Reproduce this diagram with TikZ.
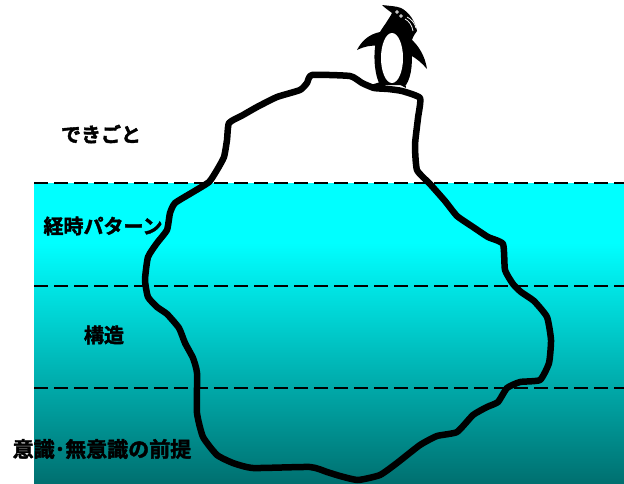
\documentclass[tikz,border=0pt]{standalone}
\usepackage{fontspec}
\newfontfamily\jpfont{Noto Sans CJK JP Bold}[FakeBold=2]
\definecolor{deepwater}{RGB}{0,112,112}
\definecolor{surface}{RGB}{0,255,255}
\pgfdeclareverticalshading{water}{100bp}{color(0bp)=(deepwater); color(25bp)=(deepwater); color(65bp)=(surface); color(100bp)=(surface)}
\tikzset{
  level/.style={line width=1.8pt, dash pattern=on 14pt off 6pt},
  berg/.style={line width=6.5pt, line join=round, line cap=round},
  layer/.style={font=\jpfont\fontsize{20pt}{22pt}\selectfont, inner sep=0pt},
  ink/.style={fill=black, draw=none},
}
\begin{document}
\begin{tikzpicture}[x=1pt,y=-1pt]
\useasboundingbox (0,0) rectangle (624,483);
% sea, getting darker with depth
\shade[shading=water] (34,183) rectangle (624,483);
% layer boundaries
\draw[level] (34,183) -- (624,183);
\draw[level] (34,286) -- (624,286);
\draw[level] (34,388) -- (624,388);
% the iceberg
\draw[berg] plot[smooth cycle, tension=0.3] coordinates {
 (312,75) (350,76) (362,83) (374,88) (388,89) (402,91) (420,98)
 (418,118) (415,145) (417,170) (430,184) (445,201) (457,216) (473,227)
 (488,237) (503,244) (505,270) (513,284) (521,292) (534,301) (547,317)
 (551,340) (549,363) (540,380) (520,382) (507,388) (498,402) (487,407)
 (473,415) (457,432) (437,436) (420,445) (397,463) (380,475) (358,480)
 (340,476) (327,472) (310,467) (253,468) (233,463) (217,455) (203,437)
 (197,413) (197,373) (193,358) (185,343) (179,328) (167,314) (157,307)
 (148,297) (145,280) (148,257) (157,243) (167,230) (170,213) (175,203)
 (193,192) (209,182) (217,170) (224,157) (227,140) (229,123) (243,115)
 (257,107) (277,97) (300,90) (307,83)};
% penguin on the summit
\path[ink] (382,5) .. controls (390,6) and (396,6) .. (401,8)
  .. controls (409,12) and (415,21) .. (417,31)
  .. controls (414,35) and (412,38) .. (411,44)
  .. controls (413,60) and (412,76) .. (406,85)
  -- (380,85)
  .. controls (373,72) and (373,46) .. (378,35)
  .. controls (383,27) and (389,19) .. (392,13)
  .. controls (388,10) and (385,8) .. cycle;
\fill[white] (392,58) ellipse[x radius=11pt, y radius=25pt];
% flippers
\path[ink] (410,38) .. controls (419,46) and (425,56) .. (427,69)
  .. controls (422,63) and (416,58) .. (410,55) -- cycle;
\path[ink] (380,32) .. controls (370,34) and (362,40) .. (357,50)
  .. controls (365,46) and (373,45) .. (379,46) -- cycle;
% feet
\path[ink] (367,86) -- (384,81) -- (386,87) -- cycle;
\path[ink] (395,82) -- (405,81) -- (406,88) -- cycle;
% eyes and crest
\foreach \p in {(397,12),(401,16)} {
  \fill[white] \p circle[radius=1.9pt];
  \fill[black] \p circle[radius=0.7pt];
}
\draw[white, line width=0.8pt] (405,19) .. controls (409,21) and (412,25) .. (413,31);
\draw[white, line width=0.8pt] (407,17) .. controls (411,19) and (415,23) .. (416,28);
% layer names
\node[layer] (event) at (101,134) {できごと};
\node[layer] (pattern) at (103,226) {経時パターン};
\node[layer] (structure) at (104,335) {構造};
\node[layer, font=\jpfont\fontsize{21pt}{23pt}\selectfont] (premise) at (102,449) {意識･無意識の前提};
\end{tikzpicture}
\end{document}
